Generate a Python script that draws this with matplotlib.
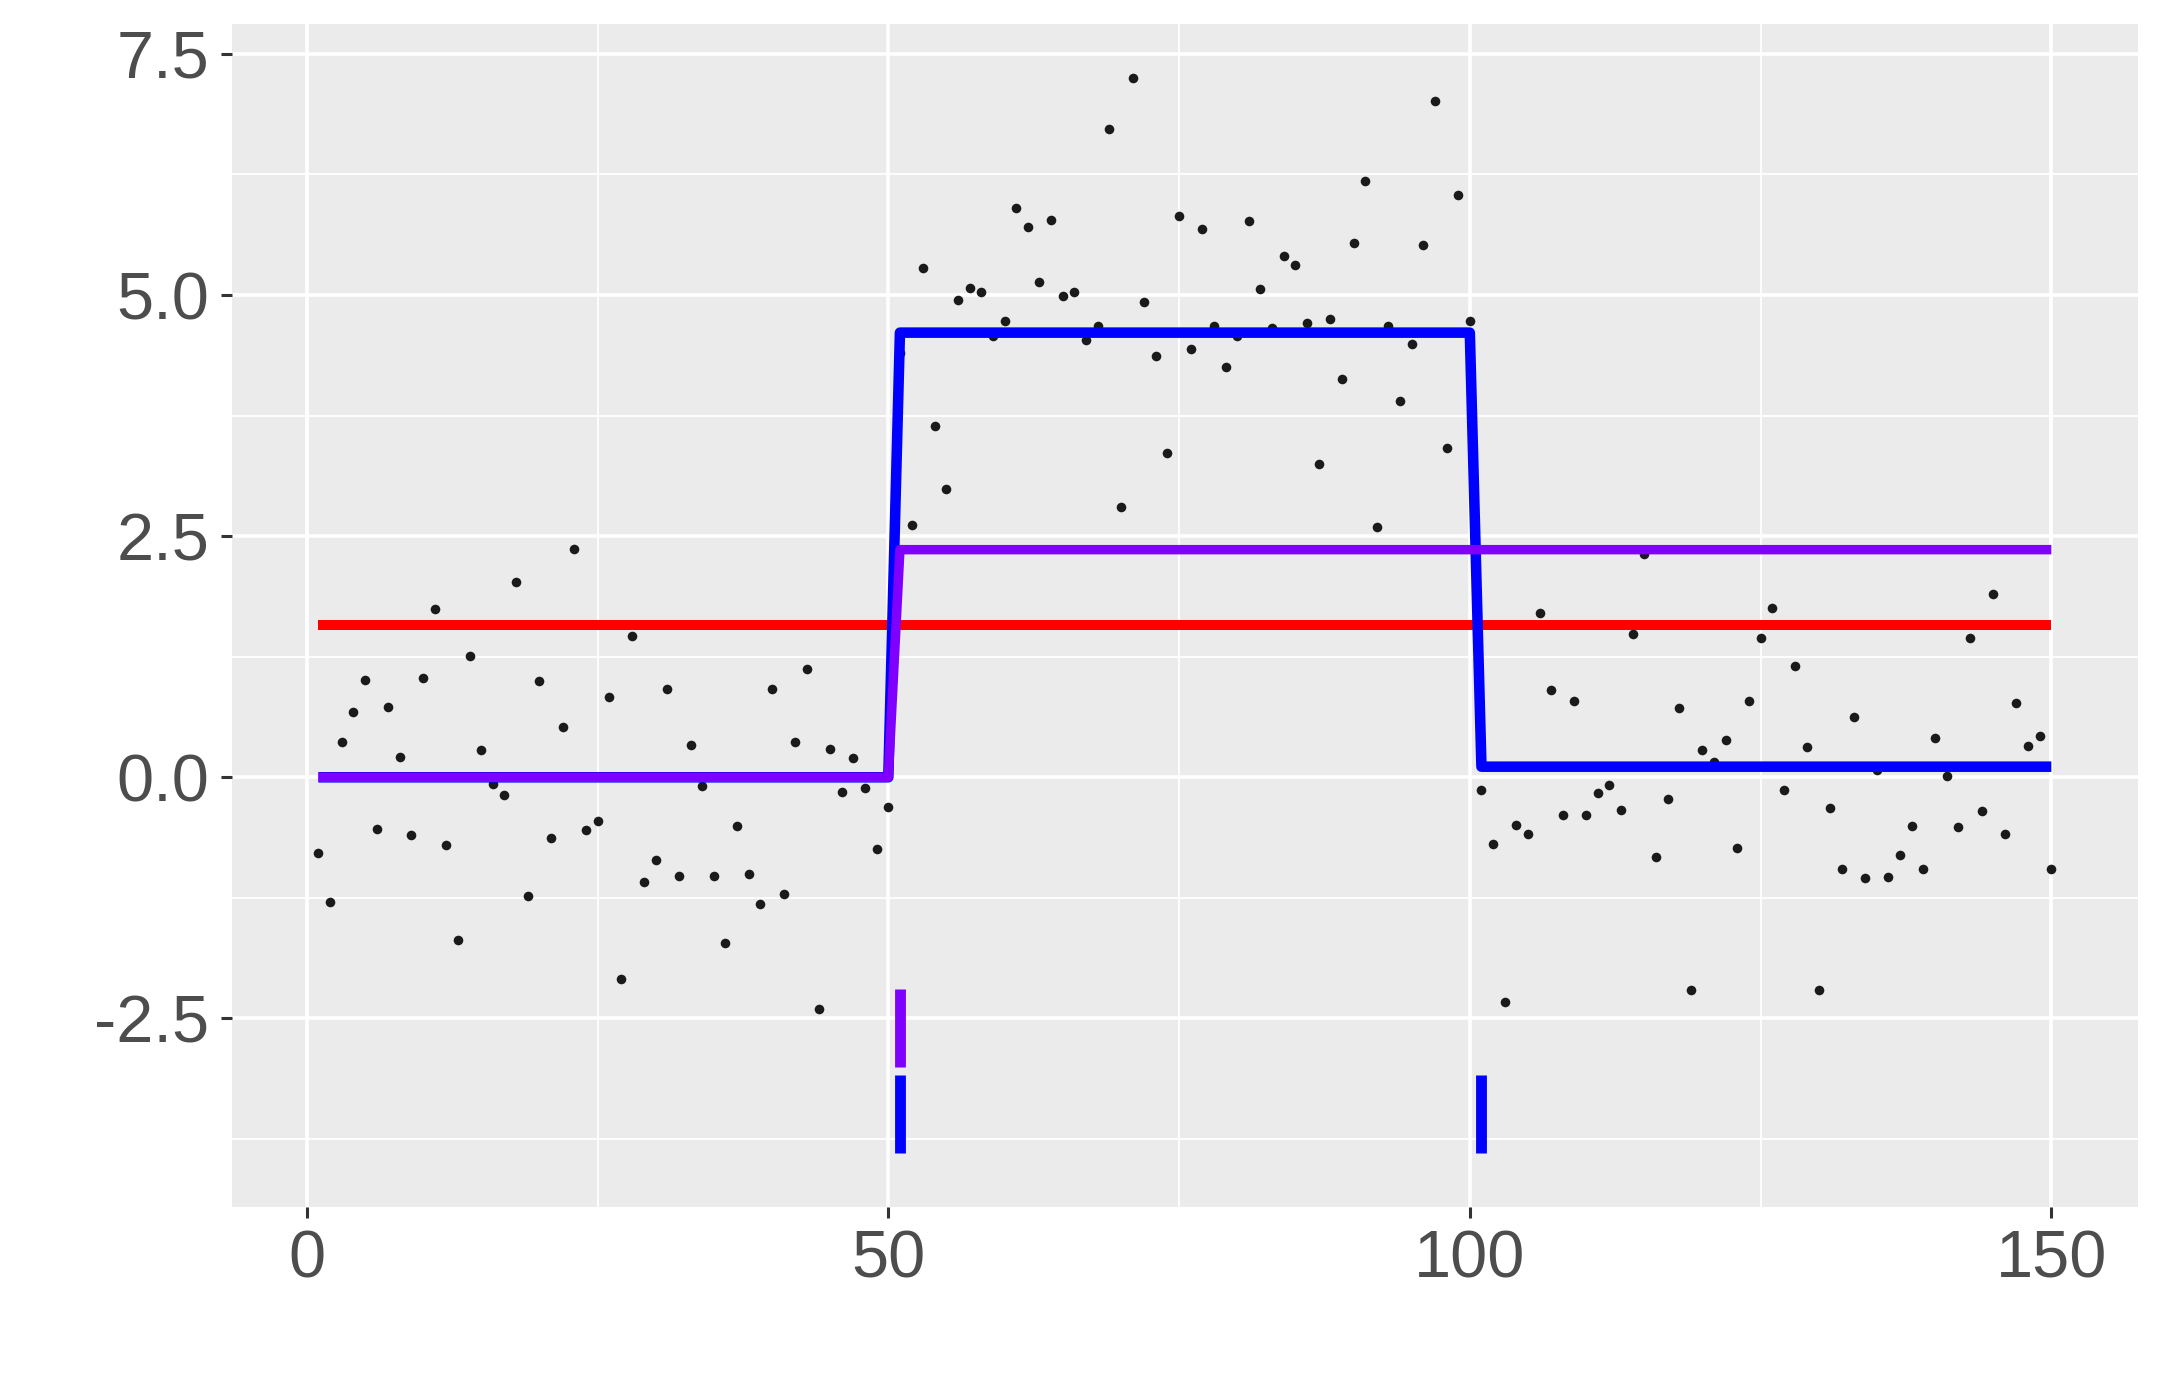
import numpy as np
import matplotlib
matplotlib.use("Agg")
import matplotlib.pyplot as plt

plt.rcParams["font.family"] = ["Liberation Sans", "DejaVu Sans"]
plt.rcParams["axes.unicode_minus"] = False

# ── Data ──────────────────────────────────────────────────────────────────────
x = np.arange(1, 151)

y_seg1 = [-0.79, -1.29, 0.37, 0.68, 1.01, -0.54, 0.73, 0.21, -0.60, 1.03,
          1.74, -0.70, -1.69, 1.26, 0.28, -0.07, -0.18, 2.02, -1.23, 1.00,
          -0.63, 0.52, 2.37, -0.55, -0.45, 0.83, -2.09, 1.46, -1.09, -0.86,
          0.92, -1.02, 0.33, -0.09, -1.02, -1.72, -0.50, -1.00, -1.31, 0.92,
          -1.21, 0.37, 1.12, -2.40, 0.29, -0.15, 0.20, -0.11, -0.74, -0.31]

y_seg2 = [4.40, 2.62, 5.28, 3.64, 2.99, 4.95, 5.07, 5.03, 4.58, 4.73,
          5.90, 5.71, 5.14, 5.78, 4.99, 5.03, 4.53, 4.68, 6.72, 2.80,
          7.25, 4.93, 4.37, 3.36, 5.82, 4.44, 5.68, 4.68, 4.25, 4.57,
          5.77, 5.06, 4.66, 5.40, 5.31, 4.71, 3.25, 4.75, 4.13, 5.54,
          6.18, 2.60, 4.68, 3.90, 4.49, 5.52, 7.01, 3.41, 6.04, 4.73]

y_seg3 = [-0.13, -0.69, -2.33, -0.49, -0.59, 1.70, 0.90, -0.39, 0.79, -0.39,
          -0.16, -0.08, -0.34, 1.49, 2.32, -0.83, -0.23, 0.72, -2.21, 0.28,
          0.16, 0.39, -0.73, 0.79, 1.44, 1.75, -0.13, 1.15, 0.31, -2.21,
          -0.32, -0.95, 0.62, -1.04, 0.08, -1.03, -0.81, -0.50, -0.95, 0.41,
          0.01, -0.52, 1.44, -0.35, 1.90, -0.59, 0.77, 0.32, 0.43, -0.95]

y = np.array(y_seg1 + y_seg2 + y_seg3)

# fitted step lines
red_x = [1, 150]
red_y = [1.58, 1.58]
blue_x = [1, 50, 51, 100, 101, 150]
blue_y = [0.0, 0.0, 4.61, 4.61, 0.11, 0.11]
purple_x = [1, 50, 51, 150]
purple_y = [0.0, 0.0, 2.36, 2.36]

# detected change points (drawn as short bars under the data)
purple_cp = [51]
purple_cp_range = (-3.00, -2.20)
blue_cp = [51, 101]
blue_cp_range = (-3.90, -3.09)

# ── Plot ──────────────────────────────────────────────────────────────────────
fig = plt.figure(figsize=(10.8, 6.93), dpi=200)
ax = fig.add_axes([0.1073, 0.1288, 0.9898 - 0.1073, 0.9827 - 0.1288])
ax.set_facecolor("#EBEBEB")
for s in ax.spines.values():
    s.set_visible(False)

ax.set_xticks([0, 50, 100, 150])
ax.set_xticks([25, 75, 125], minor=True)
ax.set_yticks([-2.5, 0.0, 2.5, 5.0, 7.5])
ax.set_yticks([-3.75, -1.25, 1.25, 3.75, 6.25], minor=True)
ax.set_yticklabels(["-2.5", "0.0", "2.5", "5.0", "7.5"])
ax.grid(which="major", color="white", linewidth=1.3)
ax.grid(which="minor", color="white", linewidth=0.65)
ax.set_axisbelow(True)

ax.tick_params(which="major", length=4, width=1.1, color="#333333",
               labelsize=24, labelcolor="#4D4D4D", pad=4)
ax.tick_params(which="minor", length=0)

ax.scatter(x, y, s=12, color="#1A1A1A", zorder=3, linewidths=0)

ax.plot(red_x, red_y, color="#FF0000", linewidth=3.6,
        solid_capstyle="butt", zorder=4)
ax.plot(blue_x, blue_y, color="#0000FF", linewidth=3.8,
        solid_capstyle="butt", zorder=5)
ax.plot(purple_x, purple_y, color="#7F00FF", linewidth=3.4,
        solid_capstyle="butt", zorder=6)

ax.vlines(purple_cp, *purple_cp_range, color="#7F00FF", linewidth=3.9, zorder=6)
ax.vlines(blue_cp, *blue_cp_range, color="#0000FF", linewidth=3.9, zorder=6)

ax.set_xlim(-6.45, 157.45)
ax.set_ylim(-4.46, 7.81)

plt.savefig("out.png", dpi=200)
